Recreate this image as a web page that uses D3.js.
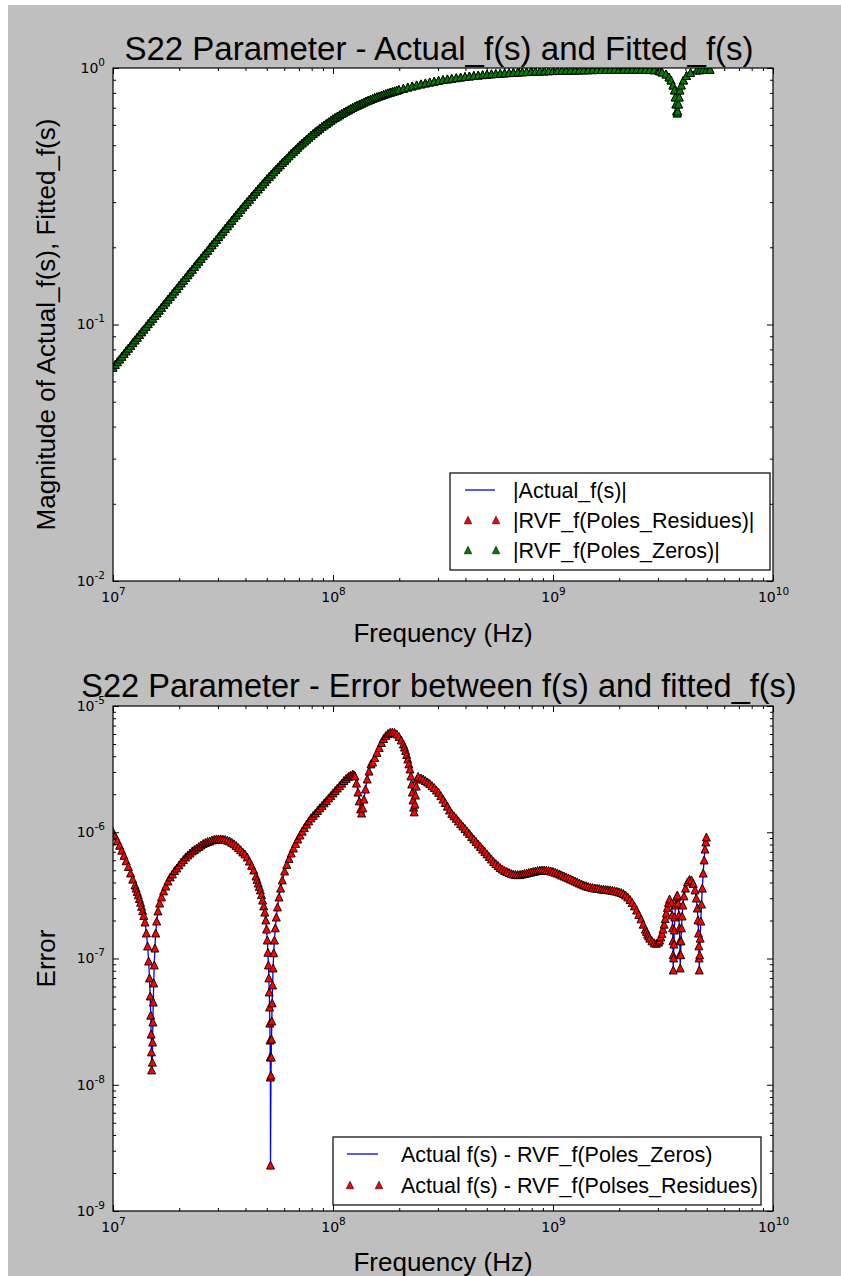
<!DOCTYPE html>
<html>
<head>
<meta charset="utf-8">
<script src="https://cdn.jsdelivr.net/npm/d3@7"></script>
<style>
  body { margin: 0; background: #fff; }
  svg { display: block; }
</style>
</head>
<body>
<svg id="fig" width="841" height="1276"></svg>
<script>
// ---- S22 magnitude: frequency (Hz) and |f(s)| ----
const magFreq = [
  1.000e7, 1.023e7, 1.047e7, 1.072e7, 1.096e7, 1.122e7, 1.148e7, 1.175e7, 1.202e7, 1.230e7,
  1.259e7, 1.288e7, 1.318e7, 1.349e7, 1.380e7, 1.413e7, 1.445e7, 1.479e7, 1.514e7, 1.549e7,
  1.585e7, 1.622e7, 1.660e7, 1.698e7, 1.738e7, 1.778e7, 1.820e7, 1.862e7, 1.905e7, 1.950e7,
  1.995e7, 2.042e7, 2.089e7, 2.138e7, 2.188e7, 2.239e7, 2.291e7, 2.344e7, 2.399e7, 2.455e7,
  2.512e7, 2.570e7, 2.630e7, 2.692e7, 2.754e7, 2.818e7, 2.884e7, 2.951e7, 3.020e7, 3.090e7,
  3.162e7, 3.236e7, 3.311e7, 3.388e7, 3.467e7, 3.548e7, 3.631e7, 3.715e7, 3.802e7, 3.890e7,
  3.981e7, 4.074e7, 4.169e7, 4.266e7, 4.365e7, 4.467e7, 4.571e7, 4.677e7, 4.786e7, 4.898e7,
  5.012e7, 5.129e7, 5.248e7, 5.370e7, 5.495e7, 5.623e7, 5.754e7, 5.888e7, 6.026e7, 6.166e7,
  6.310e7, 6.457e7, 6.607e7, 6.761e7, 6.918e7, 7.079e7, 7.244e7, 7.413e7, 7.586e7, 7.762e7,
  7.943e7, 8.128e7, 8.318e7, 8.511e7, 8.710e7, 8.913e7, 9.120e7, 9.333e7, 9.550e7, 9.772e7,
  1.000e8, 1.023e8, 1.047e8, 1.072e8, 1.096e8, 1.122e8, 1.148e8, 1.175e8, 1.202e8, 1.230e8,
  1.259e8, 1.288e8, 1.318e8, 1.349e8, 1.380e8, 1.413e8, 1.445e8, 1.479e8, 1.514e8, 1.549e8,
  1.585e8, 1.622e8, 1.660e8, 1.698e8, 1.738e8, 1.778e8, 1.820e8, 1.862e8, 1.905e8, 1.950e8,
  1.995e8, 2.089e8, 2.188e8, 2.291e8, 2.399e8, 2.512e8, 2.630e8, 2.754e8, 2.884e8, 3.020e8,
  3.162e8, 3.311e8, 3.467e8, 3.631e8, 3.802e8, 3.981e8, 4.169e8, 4.365e8, 4.571e8, 4.786e8,
  5.012e8, 5.248e8, 5.495e8, 5.754e8, 6.026e8, 6.310e8, 6.607e8, 6.918e8, 7.244e8, 7.586e8,
  7.943e8, 8.318e8, 8.710e8, 9.120e8, 9.550e8, 1.000e9, 1.047e9, 1.096e9, 1.148e9, 1.202e9,
  1.259e9, 1.318e9, 1.380e9, 1.445e9, 1.514e9, 1.585e9, 1.660e9, 1.738e9, 1.820e9, 1.905e9,
  1.995e9, 2.089e9, 2.188e9, 2.291e9, 2.399e9, 2.512e9, 2.630e9, 2.754e9, 2.884e9, 3.020e9,
  3.0486e9, 3.1295e9, 3.2631e9, 3.3672e9, 3.4384e9, 3.5112e9, 3.5667e9, 3.5929e9, 3.6194e9, 3.6460e9,
  3.6690e9, 3.6921e9, 3.7193e9, 3.7467e9, 3.7742e9, 3.8298e9, 3.9191e9, 4.0441e9, 4.2170e9, 4.5138e9,
  4.6578e9, 4.8064e9, 4.9805e9, 5.1718e9
];
const magActual = [
  0.0682, 0.0699, 0.0716, 0.0734, 0.0752, 0.0771, 0.0790, 0.0809, 0.0829, 0.0850,
  0.0871, 0.0892, 0.0914, 0.0937, 0.0960, 0.0984, 0.1008, 0.1033, 0.1058, 0.1084,
  0.1111, 0.1139, 0.1167, 0.1196, 0.1225, 0.1256, 0.1287, 0.1318, 0.1351, 0.1384,
  0.1419, 0.1454, 0.1490, 0.1526, 0.1564, 0.1603, 0.1642, 0.1683, 0.1725, 0.1767,
  0.1811, 0.1856, 0.1901, 0.1948, 0.1997, 0.2046, 0.2096, 0.2148, 0.2201, 0.2256,
  0.2312, 0.2369, 0.2427, 0.2487, 0.2549, 0.2612, 0.2675, 0.2740, 0.2807, 0.2875,
  0.2944, 0.3013, 0.3083, 0.3155, 0.3228, 0.3304, 0.3379, 0.3456, 0.3535, 0.3616,
  0.3698, 0.3777, 0.3858, 0.3941, 0.4025, 0.4111, 0.4195, 0.4281, 0.4369, 0.4458,
  0.4550, 0.4639, 0.4730, 0.4822, 0.4917, 0.5012, 0.5101, 0.5191, 0.5283, 0.5376,
  0.5470, 0.5557, 0.5645, 0.5734, 0.5825, 0.5916, 0.5998, 0.6081, 0.6166, 0.6252,
  0.6339, 0.6416, 0.6493, 0.6571, 0.6650, 0.6730, 0.6802, 0.6874, 0.6947, 0.7021,
  0.7096, 0.7161, 0.7228, 0.7295, 0.7362, 0.7430, 0.7489, 0.7548, 0.7607, 0.7667,
  0.7727, 0.7780, 0.7834, 0.7889, 0.7943, 0.7998, 0.8046, 0.8094, 0.8143, 0.8192,
  0.8241, 0.8333, 0.8425, 0.8511, 0.8590, 0.8670, 0.8742, 0.8815, 0.8884, 0.8951,
  0.9016, 0.9066, 0.9116, 0.9167, 0.9218, 0.9268, 0.9307, 0.9346, 0.9384, 0.9423,
  0.9462, 0.9489, 0.9515, 0.9541, 0.9568, 0.9594, 0.9616, 0.9638, 0.9661, 0.9683,
  0.9705, 0.9719, 0.9732, 0.9745, 0.9759, 0.9772, 0.9781, 0.9790, 0.9799, 0.9808,
  0.9817, 0.9826, 0.9835, 0.9845, 0.9854, 0.9863, 0.9867, 0.9872, 0.9876, 0.9881,
  0.9886, 0.9886, 0.9886, 0.9884, 0.9881, 0.9877, 0.9870, 0.9860, 0.9845, 0.9822,
  0.9752, 0.9647, 0.9476, 0.9224, 0.8977, 0.8585, 0.8208, 0.7707, 0.7238, 0.6798,
  0.6677, 0.6798, 0.7238, 0.7707, 0.8208, 0.8585, 0.8977, 0.9350, 0.9605, 0.9822,
  0.9850, 0.9866, 0.9876, 0.9884
];
// both rational fits lie on the measured magnitude
const magPolesResidues = magActual;
const magPolesZeros = magActual;

// ---- S22 fitting error ----
const errFreq = [
  // 10 MHz - first null
  1.000e7, 1.023e7, 1.047e7, 1.072e7, 1.096e7, 1.122e7, 1.148e7, 1.175e7, 1.202e7, 1.230e7,
  1.259e7, 1.274e7, 1.288e7, 1.303e7, 1.318e7, 1.334e7, 1.349e7, 1.365e7, 1.380e7,
  1.398e7, 1.418e7, 1.436e7, 1.452e7, 1.465e7, 1.476e7, 1.4845e7, 1.4908e7, 1.4954e7, 1.4986e7,
  1.5096e7, 1.5136e7, 1.5184e7, 1.5239e7, 1.5311e7, 1.5400e7, 1.5504e7, 1.5635e7, 1.5799e7, 1.6016e7,
  1.6286e7, 1.6613e7,
  // hump and second null
  1.698e7, 1.738e7, 1.778e7, 1.820e7, 1.862e7, 1.905e7, 1.950e7, 1.995e7, 2.042e7, 2.089e7,
  2.138e7, 2.188e7, 2.239e7, 2.291e7, 2.344e7, 2.399e7, 2.455e7, 2.512e7, 2.570e7, 2.630e7,
  2.692e7, 2.754e7, 2.818e7, 2.884e7, 2.951e7, 3.020e7, 3.090e7, 3.162e7, 3.236e7, 3.311e7,
  3.388e7, 3.467e7, 3.548e7, 3.631e7, 3.715e7, 3.802e7, 3.890e7, 3.981e7, 4.074e7, 4.169e7,
  4.266e7, 4.365e7, 4.467e7, 4.519e7, 4.571e7, 4.624e7, 4.677e7, 4.732e7, 4.786e7, 4.842e7,
  4.898e7, 4.949e7, 4.991e7, 5.028e7, 5.059e7, 5.086e7, 5.110e7, 5.131e7, 5.150e7, 5.164e7,
  5.174e7, 5.183e7, 5.191e7, 5.199e7, 5.223e7, 5.240e7, 5.254e7, 5.270e7, 5.290e7, 5.314e7,
  5.342e7, 5.376e7, 5.418e7, 5.467e7, 5.524e7, 5.594e7, 5.683e7, 5.779e7, 5.882e7,
  // rise to the 100-250 MHz peaks
  6.026e7, 6.166e7, 6.310e7, 6.457e7, 6.607e7, 6.761e7, 6.918e7, 7.079e7, 7.244e7, 7.413e7,
  7.586e7, 7.762e7, 7.943e7, 8.128e7, 8.318e7, 8.511e7, 8.710e7, 8.913e7, 9.120e7, 9.333e7,
  9.550e7, 9.772e7, 1.000e8, 1.023e8, 1.047e8, 1.072e8, 1.096e8, 1.122e8, 1.148e8, 1.175e8,
  1.202e8, 1.230e8, 1.245e8,
  1.259e8, 1.279e8, 1.299e8, 1.317e8, 1.334e8, 1.349e8, 1.366e8, 1.383e8, 1.405e8, 1.430e8,
  1.458e8, 1.488e8,
  1.514e8, 1.549e8, 1.585e8, 1.622e8, 1.660e8, 1.698e8, 1.738e8, 1.778e8, 1.820e8, 1.862e8,
  1.905e8, 1.950e8, 1.995e8, 2.042e8, 2.089e8, 2.113e8, 2.138e8, 2.163e8, 2.188e8, 2.213e8,
  2.239e8,
  2.260e8, 2.279e8, 2.296e8, 2.310e8, 2.325e8, 2.339e8, 2.357e8, 2.371e8, 2.389e8, 2.409e8,
  2.439e8,
  // 250 MHz - 3.4 GHz
  2.512e8, 2.570e8, 2.630e8, 2.692e8, 2.754e8, 2.818e8, 2.884e8, 2.951e8, 3.020e8, 3.090e8,
  3.162e8, 3.236e8, 3.311e8, 3.388e8, 3.467e8, 3.548e8, 3.631e8, 3.715e8, 3.802e8, 3.890e8,
  3.981e8, 4.074e8, 4.169e8, 4.266e8, 4.365e8, 4.467e8, 4.571e8, 4.677e8, 4.786e8, 4.898e8,
  5.012e8, 5.129e8, 5.248e8, 5.370e8, 5.495e8, 5.623e8, 5.754e8, 5.888e8, 6.026e8, 6.166e8,
  6.310e8, 6.457e8, 6.607e8, 6.761e8, 6.918e8, 7.079e8, 7.244e8, 7.413e8, 7.586e8, 7.762e8,
  7.943e8, 8.128e8, 8.318e8, 8.511e8, 8.710e8, 8.913e8, 9.120e8, 9.333e8, 9.550e8, 9.772e8,
  1.000e9, 1.023e9, 1.047e9, 1.072e9, 1.096e9, 1.122e9, 1.148e9, 1.175e9, 1.202e9, 1.230e9,
  1.259e9, 1.288e9, 1.318e9, 1.349e9, 1.380e9, 1.413e9, 1.445e9, 1.479e9, 1.514e9, 1.549e9,
  1.585e9, 1.622e9, 1.660e9, 1.698e9, 1.738e9, 1.778e9, 1.820e9, 1.862e9, 1.905e9, 1.950e9,
  1.995e9, 2.042e9, 2.089e9, 2.138e9, 2.188e9, 2.239e9, 2.291e9, 2.344e9, 2.399e9, 2.455e9,
  2.512e9, 2.570e9, 2.630e9, 2.661e9, 2.692e9, 2.723e9, 2.754e9, 2.818e9, 2.884e9, 2.951e9,
  3.020e9, 3.055e9, 3.090e9, 3.126e9, 3.162e9, 3.199e9, 3.236e9, 3.273e9, 3.311e9, 3.350e9,
  3.388e9,
  // high-frequency nulls
  3.4601e9, 3.4820e9, 3.4966e9, 3.5075e9, 3.5149e9, 3.5204e9, 3.5334e9, 3.5445e9, 3.5592e9, 3.5780e9,
  3.6043e9, 3.6422e9, 3.6728e9, 3.7076e9, 3.7349e9, 3.7545e9, 3.7702e9, 3.7801e9, 3.7880e9, 3.8019e9,
  3.8179e9, 3.8379e9, 3.8621e9, 3.8945e9, 3.9396e9, 4.0020e9, 4.0866e9, 4.1730e9, 4.2614e9, 4.3424e9,
  4.4203e9, 4.4808e9, 4.5280e9, 4.5613e9, 4.5853e9, 4.6020e9, 4.6141e9, 4.6238e9, 4.6433e9, 4.6676e9,
  4.6970e9, 4.7315e9, 4.7714e9, 4.8165e9, 4.8621e9, 4.9081e9, 4.9494e9, 4.9805e9
];
const errPolesZeros = [
  1.009e-6, 9.33e-7, 8.59e-7, 7.89e-7, 7.21e-7, 6.56e-7, 5.94e-7, 5.35e-7, 4.76e-7, 4.25e-7,
  3.82e-7, 3.61e-7, 3.40e-7, 3.20e-7, 2.99e-7, 2.79e-7, 2.59e-7, 2.39e-7, 2.19e-7,
  1.945e-7, 1.592e-7, 1.256e-7, 9.55e-8, 7.02e-8, 5.05e-8, 3.56e-8, 2.52e-8, 1.82e-8, 1.31e-8,
  1.51e-8, 2.18e-8, 3.14e-8, 4.52e-8, 6.40e-8, 8.89e-8, 1.21e-7, 1.592e-7, 1.98e-7, 2.38e-7,
  2.75e-7, 3.07e-7,
  3.43e-7, 3.75e-7, 4.11e-7, 4.43e-7, 4.67e-7, 4.98e-7, 5.21e-7, 5.51e-7, 5.81e-7, 6.08e-7,
  6.37e-7, 6.61e-7, 6.85e-7, 7.11e-7, 7.29e-7, 7.50e-7, 7.71e-7, 7.92e-7, 8.15e-7, 8.30e-7,
  8.45e-7, 8.53e-7, 8.69e-7, 8.77e-7, 8.85e-7, 8.85e-7, 8.85e-7, 8.81e-7, 8.77e-7, 8.65e-7,
  8.53e-7, 8.32e-7, 8.11e-7, 7.85e-7, 7.57e-7, 7.26e-7, 6.98e-7, 6.73e-7, 6.37e-7, 5.92e-7,
  5.46e-7, 5.02e-7, 4.50e-7, 4.23e-7, 3.96e-7, 3.72e-7, 3.49e-7, 3.21e-7, 2.90e-7, 2.61e-7,
  2.33e-7, 2.02e-7, 1.71e-7, 1.40e-7, 1.12e-7, 8.89e-8, 7.02e-8, 5.43e-8, 4.13e-8, 3.08e-8,
  2.26e-8, 1.66e-8, 1.15e-8, 2.31e-9, 1.19e-8, 1.66e-8, 2.30e-8, 3.20e-8, 4.45e-8, 6.17e-8,
  8.41e-8, 1.11e-7, 1.40e-7, 1.75e-7, 2.13e-7, 2.56e-7, 3.07e-7, 3.61e-7, 4.19e-7,
  4.93e-7, 5.56e-7, 6.19e-7, 6.85e-7, 7.50e-7, 8.15e-7, 8.85e-7, 9.51e-7, 1.02e-6, 1.09e-6,
  1.16e-6, 1.23e-6, 1.30e-6, 1.36e-6, 1.42e-6, 1.49e-6, 1.56e-6, 1.63e-6, 1.71e-6, 1.78e-6,
  1.87e-6, 1.95e-6, 2.05e-6, 2.14e-6, 2.24e-6, 2.34e-6, 2.45e-6, 2.57e-6, 2.67e-6, 2.77e-6,
  2.84e-6, 2.89e-6, 2.84e-6,
  2.79e-6, 2.45e-6, 2.08e-6, 1.77e-6, 1.53e-6, 1.42e-6, 1.56e-6, 1.83e-6, 2.20e-6, 2.64e-6,
  3.05e-6, 3.48e-6,
  3.60e-6, 3.91e-6, 4.29e-6, 4.69e-6, 5.14e-6, 5.53e-6, 5.83e-6, 6.05e-6, 6.19e-6, 6.22e-6,
  6.17e-6, 6.00e-6, 5.73e-6, 5.38e-6, 5.00e-6, 4.73e-6, 4.45e-6, 4.13e-6, 3.80e-6, 3.48e-6,
  3.17e-6,
  2.79e-6, 2.41e-6, 2.08e-6, 1.80e-6, 1.58e-6, 1.45e-6, 1.67e-6, 1.97e-6, 2.32e-6, 2.64e-6,
  2.77e-6,
  2.69e-6, 2.64e-6, 2.57e-6, 2.50e-6, 2.43e-6, 2.34e-6, 2.26e-6, 2.16e-6, 2.07e-6, 1.95e-6,
  1.83e-6, 1.72e-6, 1.61e-6, 1.50e-6, 1.41e-6, 1.35e-6, 1.29e-6, 1.23e-6, 1.17e-6, 1.12e-6,
  1.07e-6, 1.02e-6, 9.77e-7, 9.25e-7, 8.85e-7, 8.45e-7, 8.07e-7, 7.71e-7, 7.36e-7, 7.05e-7,
  6.73e-7, 6.43e-7, 6.14e-7, 5.86e-7, 5.65e-7, 5.46e-7, 5.26e-7, 5.12e-7, 4.98e-7, 4.89e-7,
  4.80e-7, 4.71e-7, 4.67e-7, 4.62e-7, 4.62e-7, 4.62e-7, 4.67e-7, 4.71e-7, 4.75e-7, 4.80e-7,
  4.84e-7, 4.89e-7, 4.93e-7, 4.98e-7, 5.00e-7, 5.02e-7, 5.02e-7, 5.00e-7, 4.98e-7, 4.93e-7,
  4.89e-7, 4.82e-7, 4.75e-7, 4.67e-7, 4.58e-7, 4.50e-7, 4.43e-7, 4.35e-7, 4.27e-7, 4.19e-7,
  4.11e-7, 4.04e-7, 3.96e-7, 3.89e-7, 3.82e-7, 3.77e-7, 3.72e-7, 3.68e-7, 3.65e-7, 3.61e-7,
  3.60e-7, 3.58e-7, 3.55e-7, 3.54e-7, 3.52e-7, 3.50e-7, 3.49e-7, 3.47e-7, 3.44e-7, 3.41e-7,
  3.37e-7, 3.33e-7, 3.27e-7, 3.18e-7, 3.07e-7, 2.93e-7, 2.78e-7, 2.61e-7, 2.42e-7, 2.23e-7,
  2.06e-7, 1.87e-7, 1.71e-7, 1.64e-7, 1.56e-7, 1.51e-7, 1.45e-7, 1.38e-7, 1.33e-7, 1.32e-7,
  1.35e-7, 1.40e-7, 1.48e-7, 1.58e-7, 1.71e-7, 1.87e-7, 2.07e-7, 2.29e-7, 2.54e-7, 2.78e-7,
  2.96e-7,
  2.75e-7, 2.21e-7, 1.75e-7, 1.38e-7, 1.07e-7, 8.11e-8, 1.01e-7, 1.30e-7, 1.68e-7, 2.13e-7,
  2.65e-7, 3.07e-7, 3.18e-7, 2.75e-7, 2.21e-7, 1.75e-7, 1.38e-7, 1.09e-7, 8.41e-8, 1.07e-7,
  1.38e-7, 1.75e-7, 2.17e-7, 2.65e-7, 3.13e-7, 3.61e-7, 4.04e-7, 4.23e-7, 4.19e-7, 3.93e-7,
  3.49e-7, 3.01e-7, 2.51e-7, 2.02e-7, 1.59e-7, 1.26e-7, 1.01e-7, 8.11e-8, 1.07e-7, 1.45e-7,
  1.98e-7, 2.70e-7, 3.61e-7, 4.75e-7, 6.03e-7, 7.36e-7, 8.38e-7, 9.16e-7
];
const errPolesResidues = errPolesZeros;

// ---- axis ticks ----
const xDecades = [1e7, 1e8, 1e9, 1e10];
const magDecades = [1e-2, 1e-1, 1e0];
const errDecades = [1e-9, 1e-8, 1e-7, 1e-6, 1e-5];

const W = 841, H = 1276;
const BLUE = "#0000ff", RED = "#ff0000", GREEN = "#008000";
const SANS = "'Liberation Sans', Arial, Helvetica, sans-serif";
const TICKFONT = "'DejaVu Sans', sans-serif";
const MARKER = 8;          // triangle width/height in the plots
const LEGEND_MARKER = 7.5; // triangle size in the legends

const svg = d3.select("#fig");
svg.append("rect").attr("width", W).attr("height", H).attr("fill", "#ffffff");
svg.append("rect").attr("x", 8).attr("y", 5).attr("width", W - 8).attr("height", H - 5).attr("fill", "#bfbfbf");

function minorTicks(decades) {
  const out = [];
  for (let i = 0; i < decades.length - 1; i++)
    for (let k = 2; k <= 9; k++) out.push(k * decades[i]);
  return out;
}

function triPath(s) {
  const h = s / 2;
  return `M0,${-h}L${h},${h}L${-h},${h}Z`;
}

function powLabel(sel) {
  sel.each(function (d) {
    const t = d3.select(this);
    const e = Math.round(Math.log10(d));
    t.text(null);
    t.append("tspan").text("10");
    t.append("tspan").attr("font-size", 10.5).attr("dy", -7).text(e);
  });
}

function panel(cfg) {
  const { left, right, top, bottom } = cfg.box;
  const x = d3.scaleLog().domain([xDecades[0], xDecades[xDecades.length - 1]]).range([left, right]);
  const y = d3.scaleLog().domain([cfg.yDecades[0], cfg.yDecades[cfg.yDecades.length - 1]]).range([bottom, top]);
  const g = svg.append("g");

  g.append("rect").attr("x", left).attr("y", top).attr("width", right - left).attr("height", bottom - top)
    .attr("fill", "#ffffff");

  const clipId = cfg.id + "-clip";
  g.append("clipPath").attr("id", clipId).append("rect")
    .attr("x", left).attr("y", top).attr("width", right - left).attr("height", bottom - top);
  const plot = g.append("g").attr("clip-path", `url(#${clipId})`);

  cfg.series.forEach(s => {
    const pts = s.freq.map((f, i) => [f, s.values[i]]);
    if (s.kind === "line") {
      plot.append("path").datum(pts)
        .attr("fill", "none").attr("stroke", s.color).attr("stroke-width", 1.3)
        .attr("d", d3.line().x(d => x(d[0])).y(d => y(d[1])));
    } else {
      plot.append("g").selectAll("path").data(pts).join("path")
        .attr("transform", d => `translate(${x(d[0])},${y(d[1])})`)
        .attr("d", triPath(MARKER))
        .attr("fill", s.color).attr("stroke", "#000").attr("stroke-width", 0.9);
    }
  });

  const xMinor = minorTicks(xDecades);
  const yMinor = minorTicks(cfg.yDecades);
  const MAJ = 6, MIN = 3;

  const gb = g.append("g").attr("transform", `translate(0,${bottom})`).attr("color", "#000")
    .call(d3.axisBottom(x).tickValues(xDecades).tickSize(-MAJ).tickSizeOuter(0).tickPadding(11));
  gb.selectAll(".tick text").attr("font-family", TICKFONT).attr("font-size", 14).attr("fill", "#000").call(powLabel);
  g.append("g").attr("transform", `translate(0,${bottom})`).attr("color", "#000")
    .call(d3.axisBottom(x).tickValues(xMinor).tickSize(-MIN).tickSizeOuter(0).tickFormat(""));
  g.append("g").attr("transform", `translate(0,${top})`).attr("color", "#000")
    .call(d3.axisTop(x).tickValues(xDecades).tickSize(-MAJ).tickSizeOuter(0).tickFormat(""));
  g.append("g").attr("transform", `translate(0,${top})`).attr("color", "#000")
    .call(d3.axisTop(x).tickValues(xMinor).tickSize(-MIN).tickSizeOuter(0).tickFormat(""));
  const gl = g.append("g").attr("transform", `translate(${left},0)`).attr("color", "#000")
    .call(d3.axisLeft(y).tickValues(cfg.yDecades).tickSize(-MAJ).tickSizeOuter(0).tickPadding(8));
  gl.selectAll(".tick text").attr("font-family", TICKFONT).attr("font-size", 14).attr("fill", "#000").call(powLabel);
  g.append("g").attr("transform", `translate(${left},0)`).attr("color", "#000")
    .call(d3.axisLeft(y).tickValues(yMinor).tickSize(-MIN).tickSizeOuter(0).tickFormat(""));
  g.append("g").attr("transform", `translate(${right},0)`).attr("color", "#000")
    .call(d3.axisRight(y).tickValues(cfg.yDecades).tickSize(-MAJ).tickSizeOuter(0).tickFormat(""));
  g.append("g").attr("transform", `translate(${right},0)`).attr("color", "#000")
    .call(d3.axisRight(y).tickValues(yMinor).tickSize(-MIN).tickSizeOuter(0).tickFormat(""));
  g.selectAll(".domain").remove();

  g.append("rect").attr("x", left).attr("y", top).attr("width", right - left).attr("height", bottom - top)
    .attr("fill", "none").attr("stroke", "#000").attr("stroke-width", 1.2);

  g.append("text").attr("x", (left + right) / 2 - 4).attr("y", cfg.titleY)
    .attr("text-anchor", "middle").attr("font-family", SANS).attr("font-size", cfg.titleSize).attr("fill", "#000")
    .text(cfg.title);
  g.append("text").attr("x", (left + right) / 2).attr("y", cfg.xLabelY)
    .attr("text-anchor", "middle").attr("font-family", SANS).attr("font-size", 26).attr("fill", "#000")
    .text(cfg.xLabel);
  g.append("text").attr("transform", `translate(${cfg.yLabelX},${(top + bottom) / 2}) rotate(-90)`)
    .attr("text-anchor", "middle").attr("font-family", SANS).attr("font-size", 26).attr("fill", "#000")
    .text(cfg.yLabel);

  const L = cfg.legend;
  const lg = g.append("g");
  lg.append("rect").attr("x", L.x).attr("y", L.y).attr("width", L.w).attr("height", L.h)
    .attr("fill", "#fff").attr("stroke", "#000").attr("stroke-width", 1.2);
  L.rows.forEach((r, i) => {
    const cy = L.y + L.firstRow + i * L.rowGap;
    if (r.kind === "line") {
      lg.append("line").attr("x1", L.x + L.sampleX0).attr("x2", L.x + L.sampleX1)
        .attr("y1", cy).attr("y2", cy).attr("stroke", r.color).attr("stroke-width", 1.3);
    } else {
      [L.sampleX0 + 3, L.sampleX1 + 1].forEach(dx => {
        lg.append("path").attr("transform", `translate(${L.x + dx},${cy})`).attr("d", triPath(LEGEND_MARKER))
          .attr("fill", r.color).attr("stroke", "#000").attr("stroke-width", 0.6);
      });
    }
    lg.append("text").attr("x", L.x + L.textX).attr("y", cy + 7.5)
      .attr("font-family", SANS).attr("font-size", 21.5).attr("fill", "#000").text(r.label);
  });
}

panel({
  id: "mag",
  box: { left: 113, right: 773, top: 68, bottom: 581 },
  yDecades: magDecades,
  title: "S22 Parameter - Actual_f(s) and Fitted_f(s)",
  titleSize: 33,
  titleY: 60,
  xLabel: "Frequency (Hz)",
  xLabelY: 642,
  yLabel: "Magnitude of Actual_f(s), Fitted_f(s)",
  yLabelX: 55,
  series: [
    { kind: "line", color: BLUE, freq: magFreq, values: magActual },
    { kind: "tri", color: RED, freq: magFreq, values: magPolesResidues },
    { kind: "tri", color: GREEN, freq: magFreq, values: magPolesZeros }
  ],
  legend: {
    x: 450, y: 473, w: 320, h: 97, firstRow: 17, rowGap: 30,
    sampleX0: 15, sampleX1: 45, textX: 63,
    rows: [
      { kind: "line", color: BLUE, label: "|Actual_f(s)|" },
      { kind: "tri", color: RED, label: "|RVF_f(Poles_Residues)|" },
      { kind: "tri", color: GREEN, label: "|RVF_f(Poles_Zeros)|" }
    ]
  }
});

panel({
  id: "err",
  box: { left: 113, right: 773, top: 706, bottom: 1211 },
  yDecades: errDecades,
  title: "S22 Parameter - Error between f(s) and fitted_f(s)",
  titleSize: 32.5,
  titleY: 697,
  xLabel: "Frequency (Hz)",
  xLabelY: 1271,
  yLabel: "Error",
  yLabelX: 55,
  series: [
    { kind: "line", color: BLUE, freq: errFreq, values: errPolesZeros },
    { kind: "tri", color: RED, freq: errFreq, values: errPolesResidues }
  ],
  legend: {
    x: 333, y: 1137, w: 428, h: 68, firstRow: 17, rowGap: 31,
    sampleX0: 14, sampleX1: 45, textX: 68,
    rows: [
      { kind: "line", color: BLUE, label: "Actual f(s) - RVF_f(Poles_Zeros)" },
      { kind: "tri", color: RED, label: "Actual f(s) - RVF_f(Polses_Residues)" }
    ]
  }
});
</script>
</body>
</html>
